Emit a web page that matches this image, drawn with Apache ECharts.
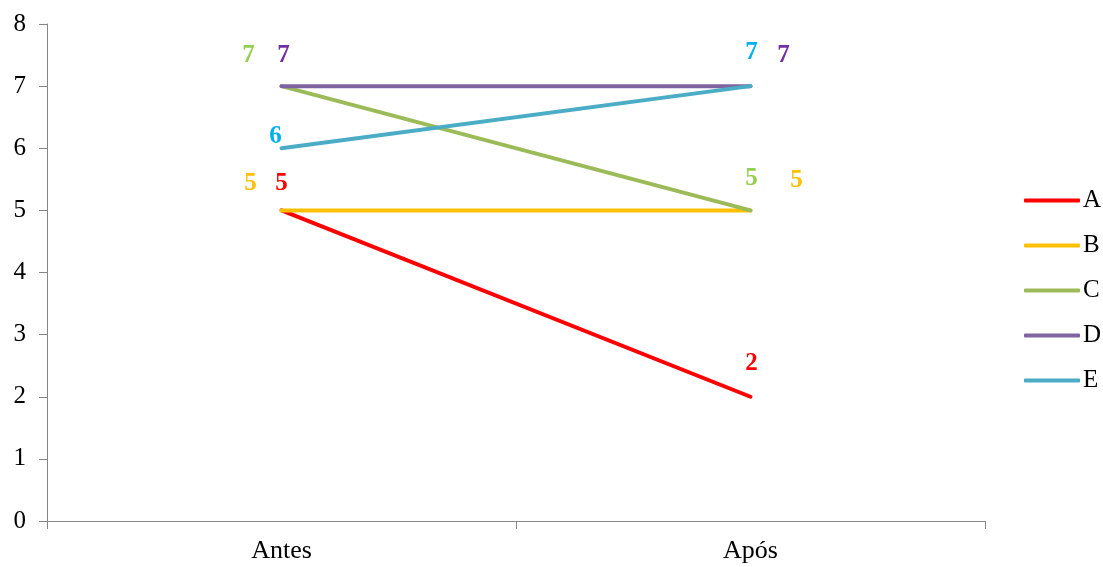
<!DOCTYPE html>
<html>
<head>
<meta charset="utf-8">
<script src="https://cdn.jsdelivr.net/npm/echarts@6/dist/echarts.min.js"></script>
<style>html,body{margin:0;padding:0;background:#fff}#c{width:1103px;height:567px}</style>
</head>
<body>
<div id="c"></div>
<script>
var categories = ['Antes', 'Após'];
var seriesNames = ['A', 'B', 'C', 'D', 'E'];
var valuesA = [5, 2];
var valuesB = [5, 5];
var valuesC = [7, 5];
var valuesD = [7, 7];
var valuesE = [6, 7];
var yTicks = [0, 1, 2, 3, 4, 5, 6, 7, 8];

var lineColors = ['#FF0000', '#FFC000', '#9BBB59', '#8064A2', '#4BACC6'];
var labelColors = ['#FF0000', '#FFC000', '#92D050', '#7030A0', '#00B0F0'];
// label offsets (pixels) per series per point
var labelOffsets = [
  [[0, -27], [1, -33]],
  [[-31, -27], [46, -30]],
  [[-33, -31], [1, -32]],
  [[2, -31], [33, -31]],
  [[-6, -12], [1, -34]]
];
var allValues = [valuesA, valuesB, valuesC, valuesD, valuesE];

var series = seriesNames.map(function (name, i) {
  return {
    name: name,
    type: 'line',
    symbol: 'circle',
    symbolSize: 1,
    showSymbol: true,
    lineStyle: { width: 4, color: lineColors[i], cap: 'round' },
    itemStyle: { color: 'rgba(0,0,0,0)', borderWidth: 0 },
    emphasis: { disabled: true },
    z: 2 + i,
    data: allValues[i].map(function (v, j) {
      return {
        value: v,
        label: {
          show: true,
          position: 'inside',
          offset: labelOffsets[i][j],
          color: labelColors[i],
          fontFamily: 'Liberation Serif',
          fontWeight: 'bold',
          fontSize: 25,
          formatter: '{c}'
        }
      };
    })
  };
});

var chart = echarts.init(document.getElementById('c'), null, { renderer: 'canvas' });
chart.setOption({
  animation: false,
  backgroundColor: '#fff',
  color: lineColors,
  textStyle: { fontFamily: 'Liberation Serif' },
  grid: { left: 47, right: 118, top: 24, bottom: 46, containLabel: false },
  legend: {
    orient: 'vertical',
    left: 1024,
    top: 188,
    padding: 0,
    itemWidth: 56,
    itemHeight: 4,
    itemGap: 20,
    icon: 'roundRect',
    textStyle: { fontFamily: 'Liberation Serif', fontSize: 25, color: '#000', padding: [0, 0, 0, -2] },
    data: seriesNames.map(function (n, i) {
      return { name: n, itemStyle: { color: lineColors[i], opacity: 1 } };
    })
  },
  xAxis: {
    type: 'category',
    data: categories,
    boundaryGap: true,
    axisLine: { lineStyle: { color: '#868686', width: 1 } },
    axisTick: { show: true, length: 8, lineStyle: { color: '#868686' } },
    axisLabel: { fontFamily: 'Liberation Serif', fontSize: 26, color: '#000', margin: 17 }
  },
  yAxis: {
    type: 'value',
    min: yTicks[0],
    max: yTicks[yTicks.length - 1],
    interval: 1,
    axisLine: { show: true, lineStyle: { color: '#868686', width: 1 } },
    axisTick: { show: true, length: 8, lineStyle: { color: '#868686' } },
    splitLine: { show: false },
    axisLabel: { fontFamily: 'Liberation Serif', fontSize: 25, color: '#000', margin: 21 }
  },
  series: series
});
</script>
</body>
</html>
